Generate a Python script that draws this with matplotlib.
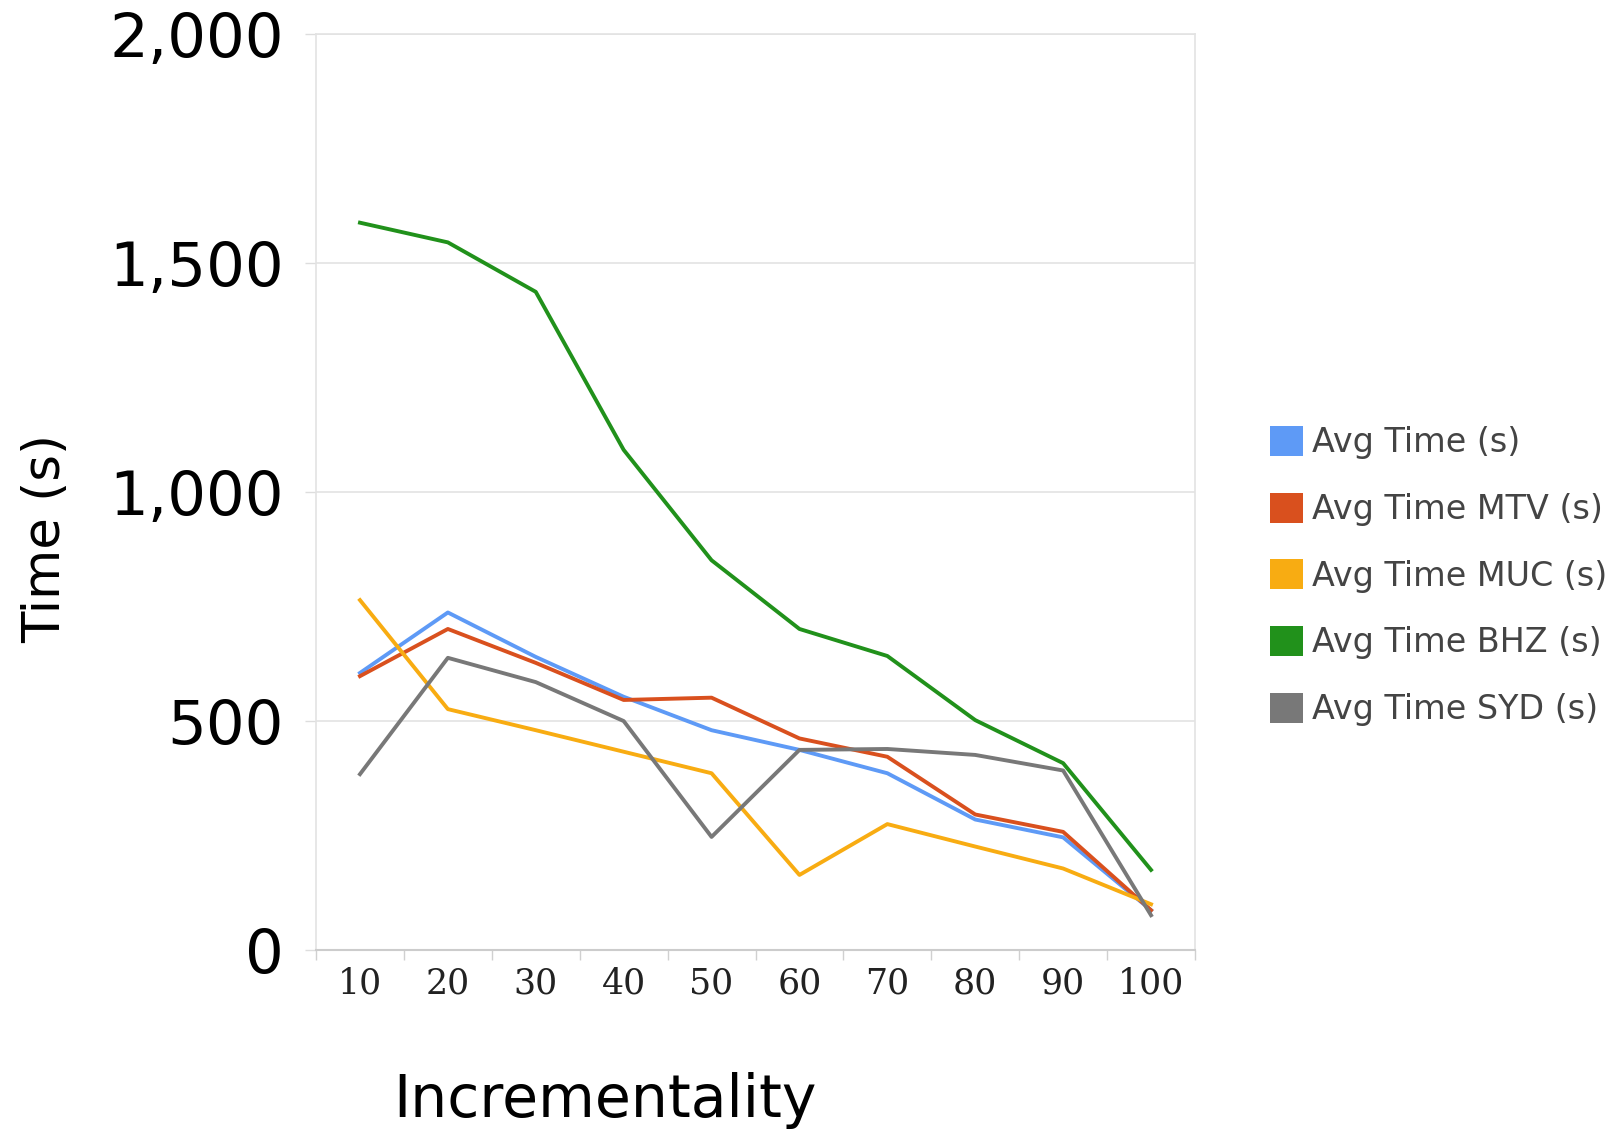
import matplotlib.pyplot as plt
from matplotlib.patches import Patch
from matplotlib.ticker import FuncFormatter

# Values
incrementality = ['10', '20', '30', '40', '50', '60', '70', '80', '90', '100']
avg_time = [605, 737, 640, 553, 480, 437, 386, 285, 246, 87]
avg_time_mtv = [598, 701, 627, 546, 551, 462, 422, 296, 258, 87]
avg_time_muc = [764, 526, 480, 433, 386, 164, 275, 226, 178, 100]
avg_time_bhz = [1588, 1545, 1437, 1092, 851, 701, 642, 502, 408, 175]
avg_time_syd = [384, 638, 585, 500, 247, 437, 439, 426, 392, 76]

series = [
    ('Avg Time (s)', avg_time, '#5e9af6'),
    ('Avg Time MTV (s)', avg_time_mtv, '#d9501e'),
    ('Avg Time MUC (s)', avg_time_muc, '#f8ac12'),
    ('Avg Time BHZ (s)', avg_time_bhz, '#21911b'),
    ('Avg Time SYD (s)', avg_time_syd, '#787878'),
]

fig = plt.figure(figsize=(16.19, 11.29), dpi=100)
ax = fig.add_axes([0.1952, 0.1585, 0.5429, 0.8114])

x = range(len(incrementality))
for label, values, color in series:
    ax.plot(x, values, color=color, linewidth=2.8, label=label)

ax.set_xlim(-0.5, len(incrementality) - 0.5)
ax.set_ylim(0, 2000)
ax.set_yticks([0, 500, 1000, 1500, 2000])
ax.yaxis.set_major_formatter(FuncFormatter(lambda v, p: f'{int(v):,}'))
ax.set_xticks(list(x))
ax.set_xticklabels(incrementality, fontfamily='DejaVu Serif', fontsize=25, color='#222222')
ax.set_xticks([i + 0.5 for i in range(-1, len(incrementality))], minor=True)

ax.tick_params(axis='x', which='major', length=0, pad=12)
ax.tick_params(axis='x', which='minor', length=7, width=1, color='#d0d0d0')
ax.tick_params(axis='y', length=8, width=1, color='#dddddd', pad=15, labelsize=44, labelcolor='black')

ax.grid(axis='y', color='#e3e3e3', linewidth=1.2)
ax.set_axisbelow(True)
for side in ['left', 'top', 'right']:
    ax.spines[side].set_color('#e3e3e3')
    ax.spines[side].set_linewidth(1.2)
ax.spines['bottom'].set_color('#cccccc')
ax.spines['bottom'].set_linewidth(1.5)

ax.set_ylabel('Time (s)', fontsize=37, va='center')
ax.yaxis.set_label_coords(-0.307, 0.449)
ax.set_xlabel('Incrementality', fontsize=42, va='center')
ax.xaxis.set_label_coords(0.329, -0.164)

handles = [Patch(facecolor=c, edgecolor='none', label=l) for l, _, c in series]
leg = fig.legend(handles=handles, loc='center left', bbox_to_anchor=(0.7844, 0.4898),
                 bbox_transform=fig.transFigure, frameon=False, fontsize=24,
                 handlelength=1.0, handleheight=1.0, handletextpad=0.25,
                 labelspacing=1.0, borderpad=0, borderaxespad=0)
for t in leg.get_texts():
    t.set_color('#444444')

fig.savefig('out.png', dpi=100, facecolor='white')
